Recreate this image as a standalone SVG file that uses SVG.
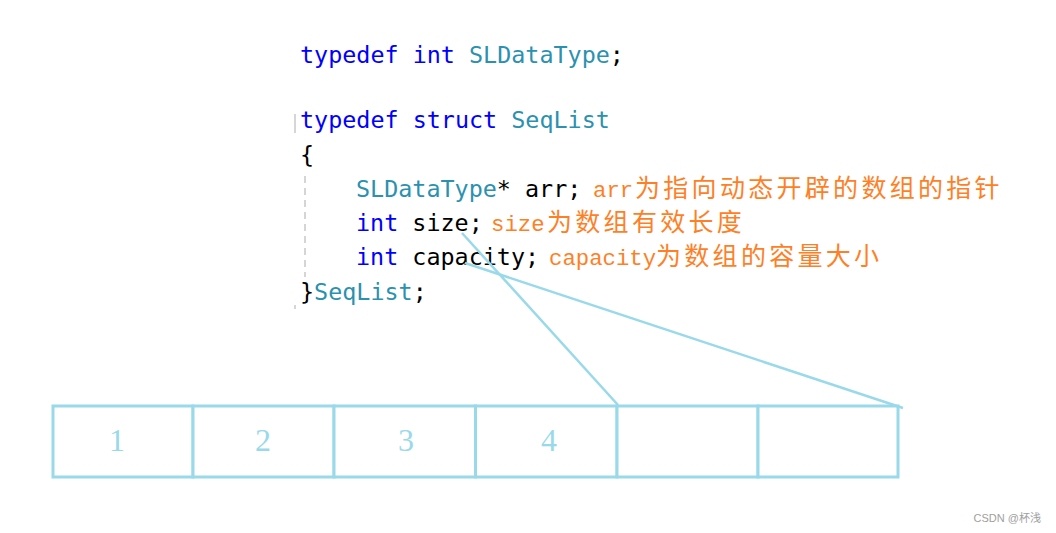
<svg xmlns="http://www.w3.org/2000/svg" width="1056" height="533" viewBox="0 0 1056 533">
  <style>
    .code { font-family: "DejaVu Sans Mono", "Liberation Mono", monospace; font-size: 23.4px; white-space: pre; fill: #000000; }
    .kw { fill: #0000ff; }
    .ty { fill: #2b91af; }
    .cm-lat { font-family: "Liberation Mono", monospace; font-size: 22.3px; fill: #ff7f27; }
    .cm-cjk { font-family: "Noto Sans CJK SC", sans-serif; font-size: 25px; letter-spacing: 3.3px; fill: #ff7f27; }
    .cell { fill: #ffffff; stroke: #99d9ea; stroke-width: 3; }
    .num { font-family: "Liberation Serif", "DejaVu Serif", serif; font-size: 32px; fill: #99d9ea; text-anchor: middle; }
    .conn { stroke: #99d9ea; stroke-width: 2.5; fill: none; }
    .guide { stroke: #c8c8c8; stroke-width: 1.5; }
  </style>
  <rect x="0" y="0" width="1056" height="533" fill="#ffffff"/>

  <g id="code">
    <line class="guide" x1="295" y1="114" x2="295" y2="133"/>
    <line class="guide" x1="305" y1="176" x2="305" y2="277" stroke-dasharray="7 5"/>
    <line class="guide" x1="295" y1="305" x2="295" y2="309"/>
    <text class="code" x="300" y="63"><tspan class="kw">typedef</tspan> <tspan class="kw">int</tspan> <tspan class="ty">SLDataType</tspan>;</text>
    <text class="code" x="300" y="128"><tspan class="kw">typedef</tspan> <tspan class="kw">struct</tspan> <tspan class="ty">SeqList</tspan></text>
    <text class="code" x="300" y="162.5">{</text>
    <text class="code" x="356" y="197"><tspan class="ty">SLDataType</tspan>* arr;</text>
    <text class="code" x="356" y="231"><tspan class="kw">int</tspan> size;</text>
    <text class="code" x="356" y="265"><tspan class="kw">int</tspan> capacity;</text>
    <text class="code" x="300" y="300">}<tspan class="ty">SeqList</tspan>;</text>
  </g>

  <g id="comments">
    <text x="593" y="197"><tspan class="cm-lat">arr</tspan><tspan class="cm-cjk" x="635">为指向动态开辟的数组的指针</tspan></text>
    <text x="491" y="231"><tspan class="cm-lat">size</tspan><tspan class="cm-cjk" x="547">为数组有效长度</tspan></text>
    <text x="549" y="265"><tspan class="cm-lat">capacity</tspan><tspan class="cm-cjk" x="656">为数组的容量大小</tspan></text>
  </g>

  <g id="array">
    <g id="cell1"><rect class="cell" x="53" y="406" width="140" height="71"/><text class="num" x="117" y="451">1</text></g>
    <g id="cell2"><rect class="cell" x="193" y="406" width="141" height="71"/><text class="num" x="263" y="451">2</text></g>
    <g id="cell3"><rect class="cell" x="334" y="406" width="141.5" height="71"/><text class="num" x="406" y="451">3</text></g>
    <g id="cell4"><rect class="cell" x="475.5" y="406" width="141.5" height="71"/><text class="num" x="549" y="451">4</text></g>
    <g id="cell5"><rect class="cell" x="617" y="406" width="141" height="71"/></g>
    <g id="cell6"><rect class="cell" x="758" y="406" width="140" height="71"/></g>
  </g>

  <g id="connectors">
    <line class="conn" x1="462" y1="233" x2="618" y2="405"/>
    <line class="conn" x1="465" y1="263" x2="903" y2="408"/>
  </g>

  <text id="watermark" x="1041" y="522" font-family="Liberation Sans, Noto Sans CJK SC, sans-serif" font-size="11px" fill="#a0a0a0" text-anchor="end">CSDN @杯浅</text>
</svg>
